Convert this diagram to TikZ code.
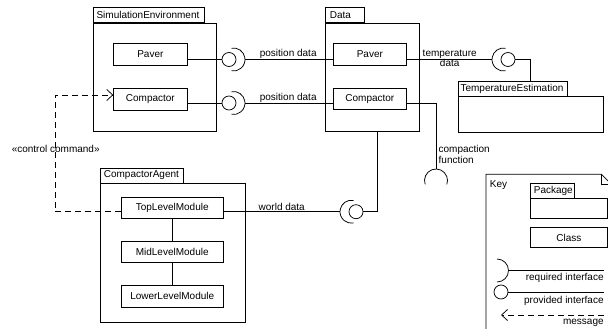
\documentclass[tikz,border=0pt]{standalone}
\usepackage{fontspec}
\setmainfont{Liberation Sans}
\usetikzlibrary{arrows.meta}
\begin{document}
\begin{tikzpicture}[x=1pt, y=-1pt, line width=0.75pt,
  font=\fontsize{10}{10.6}\selectfont,
  cls/.style={draw, rectangle, inner sep=0pt, minimum height=21.5pt, anchor=north west},
  pkgbody/.style={draw, rectangle, inner sep=0pt, anchor=north west},
  pkgtab/.style={draw, rectangle, inner xsep=3.5pt, inner ysep=0pt, minimum height=15pt, anchor=south west, align=left},
  ball/.style={draw, circle, inner sep=0pt, minimum size=14pt},
  lbl/.style={inner sep=0pt},
  msg/.style={dash pattern=on 6pt off 4pt, -{Straight Barb[length=6pt, width=11pt]}},
]
\useasboundingbox (0,0) rectangle (608,329);
\clip (0,0) rectangle (608,329);

% ---------- packages ----------
\node[pkgbody, minimum width=123pt, minimum height=108pt] (simB) at (92.7,22.7) {};
\node[pkgtab, text width=104.3pt] (simT) at (simB.north west) {SimulationEnvironment};

\node[pkgbody, minimum width=94.3pt, minimum height=108pt] (datB) at (325,22.7) {};
\node[pkgtab, inner xsep=4.5pt, text width=30pt] (datT) at (datB.north west) {Data};

\node[pkgbody, minimum width=145pt, minimum height=35.5pt] (temB) at (457.7,96.5) {};
\node[pkgtab, inner xsep=2.5pt, text width=104.6pt] (temT) at (temB.north west) {TemperatureEstimation};

\node[pkgbody, minimum width=145pt, minimum height=138.4pt] (agB) at (100,183.3) {};
\node[pkgtab, text width=75.7pt] (agT) at (agB.north west) {CompactorAgent};

% ---------- classes ----------
\node[cls, minimum width=73.4pt] (sPaver) at (113.3,43.3) {Paver};
\node[cls, minimum width=73.4pt] (sComp) at (113.3,88) {Compactor};
\node[cls, minimum width=72.4pt] (dPaver) at (333.3,43.3) {Paver};
\node[cls, minimum width=72.4pt] (dComp) at (333.3,87.7) {Compactor};
\node[cls, minimum width=101.7pt] (top) at (121,196.7) {TopLevelModule};
\node[cls, minimum width=101.7pt] (mid) at (121,240.7) {MidLevelModule};
\node[cls, minimum width=101.7pt] (low) at (121,285) {LowerLevelModule};
\draw (top) -- (mid);
\draw (mid) -- (low);

% ---------- position data (Paver) ----------
\node[ball] (b1) at (229,59.5) {};
\coordinate (k1) at (233.5,59.5);
\draw (sPaver.east |- b1) -- (b1.west);
\draw ([shift={(-100:11.5)}]k1) arc[start angle=-100, end angle=100, radius=11.5];
\draw ([xshift=11.5pt]k1) -- (dPaver.west |- k1);
\node[lbl, anchor=base west] (lp1) at (259.5,56.3) {position data};

% ---------- position data (Compactor) ----------
\node[ball] (b2) at (229,103) {};
\coordinate (k2) at (233.5,103);
\draw (sComp.east |- b2) -- (b2.west);
\draw ([shift={(-100:11.5)}]k2) arc[start angle=-100, end angle=100, radius=11.5];
\draw ([xshift=11.5pt]k2) -- (dComp.west |- k2);
\node[lbl, anchor=base west] (lp2) at (259.5,100) {position data};

% ---------- temperature data ----------
\node[ball] (b3) at (508,59.5) {};
\coordinate (k3) at (503.5,59.5);
\coordinate (tc) at (530,59.5);
\draw (dPaver.east |- k3) -- ([xshift=-11.5pt]k3);
\draw ([shift={(-80:11.5)}]k3) arc[start angle=-80, end angle=-280, radius=11.5];
\draw (b3.east) -- (tc) -- (tc |- temT.north);
\node[lbl, anchor=base, align=center] (lt) at (449.7,66.9) {temperature\\data};

% ---------- compaction function ----------
\coordinate (cc) at (436,103);
\coordinate (k5) at (436,180.5);
\draw (dComp.east |- cc) -- (cc) -- ([yshift=11.5pt]k5);
\draw ([shift={(-200:11.5)}]k5) arc[start angle=-200, end angle=20, radius=11.5];
\node[lbl, anchor=base west, align=left] (lc) at (438.3,163.2) {compaction\\function};

% ---------- world data ----------
\node[ball] (b4) at (356,211.7) {};
\coordinate (k4) at (351.5,211.7);
\coordinate (wc) at (377,211.7);
\draw (top.east |- k4) -- ([xshift=-11.5pt]k4);
\draw ([shift={(-80:11.5)}]k4) arc[start angle=-80, end angle=-280, radius=11.5];
\draw (b4.east) -- (wc) -- (wc |- datB.south);
\node[lbl, anchor=base west] (lw) at (258.3,210.3) {world data};

% ---------- control command ----------
\coordinate (dd) at (55,211.7);
\coordinate (du) at (55,95);
\draw[msg] (top.west |- dd) -- (dd) -- (du) -- (sComp.west |- du);
\node[lbl, anchor=base] (lcc) at (55.7,152.9) {«control command»};

% ---------- key ----------
\draw (486,340) -- (486,174.3) -- (601.5,174.3) -- (612,184.8) -- (612,340);
\draw (601.5,174.3) -- (601.5,184.8) -- (612,184.8);
\node[lbl, anchor=base west] (lkey) at (489.5,187) {Key};
\node[pkgbody, minimum width=77.3pt, minimum height=20pt] (kB) at (530,198.3) {};
\node[pkgtab, text width=37pt] (kT) at (kB.north west) {Package};
\node[cls, minimum width=77pt, minimum height=20.3pt] (kC) at (530,227) {Class};

\coordinate (kr) at (497,270.5);
\coordinate (re) at (604,270.5);
\draw ([shift={(-90:11.5)}]kr) arc[start angle=-90, end angle=90, radius=11.5];
\draw ([xshift=11.5pt]kr) -- (re);
\node[lbl, anchor=base east] (lreq) at (604,280.9) {required interface};

\node[ball] (bp) at (501,292) {};
\coordinate (pe) at (604,292);
\draw (bp.east) -- (pe);
\node[lbl, anchor=base east] (lpro) at (604,303.4) {provided interface};

\coordinate (ms) at (604,315);
\coordinate (me) at (501,315);
\draw[msg] (ms) -- (me);
\node[lbl, anchor=base east] (lmsg) at (604,324.5) {message};
\end{tikzpicture}
\end{document}
